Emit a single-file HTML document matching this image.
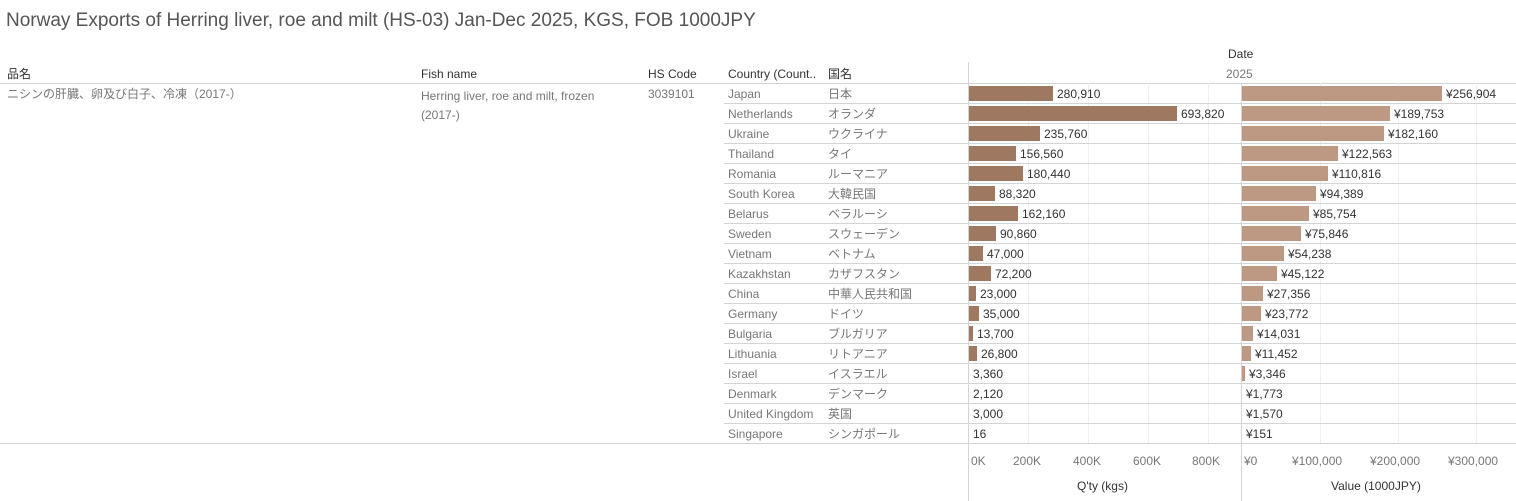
<!DOCTYPE html>
<html><head><meta charset="utf-8"><style>
body{margin:0;width:1516px;height:501px;background:#fff;font-family:"Liberation Sans","Noto Sans CJK JP",sans-serif;position:relative;overflow:hidden}
.a{position:absolute;white-space:nowrap;line-height:14px}
.t{font-size:19px;color:#555;left:6px;top:11px;line-height:20px}
.h{font-size:12px;color:#333}
.c{font-size:12px;color:#777}
.v{font-size:12px;color:#333}
.ln{position:absolute;background:#d4d4d4}
.g{position:absolute;background:#efefef;width:1px;top:83px;height:360px}
.bq{position:absolute;background:#9e7860;height:15px}
.bv{position:absolute;background:#bd9882;height:15px}
</style></head><body>
<div class="a t">Norway Exports of Herring liver, roe and milt (HS-03) Jan-Dec 2025, KGS, FOB 1000JPY</div>
<div class="a h" style="left:1228px;top:47px">Date</div>
<div class="a c" style="left:1226px;top:67px">2025</div>
<div class="a h" style="left:7px;top:67px">品名</div>
<div class="a h" style="left:421px;top:67px">Fish name</div>
<div class="a h" style="left:648px;top:67px">HS Code</div>
<div class="a h" style="left:728px;top:67px">Country (Count..</div>
<div class="a h" style="left:828px;top:67px">国名</div>
<div class="a c" style="left:7px;top:87px">ニシンの肝臓、卵及び白子、冷凍（2017-）</div>
<div class="a c" style="left:421px;top:87px;line-height:19px">Herring liver, roe and milt, frozen<br>(2017-)</div>
<div class="a c" style="left:648px;top:87px">3039101</div>
<div class="ln" style="left:0;top:83px;width:1516px;height:1px"></div>
<div class="ln" style="left:0;top:443px;width:1516px;height:1px"></div>
<div class="ln" style="left:968px;top:62px;width:1px;height:439px"></div>
<div class="ln" style="left:1241px;top:83px;width:1px;height:418px"></div>
<div class="g" style="left:1028px"></div><div class="g" style="left:1088px"></div><div class="g" style="left:1148px"></div><div class="g" style="left:1208px"></div>
<div class="g" style="left:1320px"></div><div class="g" style="left:1398px"></div><div class="g" style="left:1476px"></div>
<div id="rows"></div>
<div class="a c" style="left:971px;top:454px">0K</div>
<div class="a c" style="left:1013px;top:454px">200K</div>
<div class="a c" style="left:1073px;top:454px">400K</div>
<div class="a c" style="left:1133px;top:454px">600K</div>
<div class="a c" style="left:1192px;top:454px">800K</div>
<div class="a c" style="left:1244px;top:454px">¥0</div>
<div class="a c" style="left:1292px;top:454px">¥100,000</div>
<div class="a c" style="left:1370px;top:454px">¥200,000</div>
<div class="a c" style="left:1448px;top:454px">¥300,000</div>
<div class="a h" style="left:1077px;top:479px">Q'ty (kgs)</div>
<div class="a h" style="left:1331px;top:479px">Value (1000JPY)</div>
<script>
var d=[["Japan","日本",280910,256904],["Netherlands","オランダ",693820,189753],["Ukraine","ウクライナ",235760,182160],["Thailand","タイ",156560,122563],["Romania","ルーマニア",180440,110816],["South Korea","大韓民国",88320,94389],["Belarus","ベラルーシ",162160,85754],["Sweden","スウェーデン",90860,75846],["Vietnam","ベトナム",47000,54238],["Kazakhstan","カザフスタン",72200,45122],["China","中華人民共和国",23000,27356],["Germany","ドイツ",35000,23772],["Bulgaria","ブルガリア",13700,14031],["Lithuania","リトアニア",26800,11452],["Israel","イスラエル",3360,3346],["Denmark","デンマーク",2120,1773],["United Kingdom","英国",3000,1570],["Singapore","シンガポール",16,151]];
var h="";
d.forEach(function(r,i){var y=83+i*20;
if(i>0)h+='<div class="ln" style="left:724px;top:'+y+'px;width:792px;height:1px"></div>';
h+='<div class="a c" style="left:728px;top:'+(y+4)+'px">'+r[0]+'</div><div class="a c" style="left:828px;top:'+(y+4)+'px">'+r[1]+'</div>';
var wq=Math.round(r[2]*0.0003),wv=Math.round(r[3]*0.00078);
if(wq<2)wq=0; if(wv<2)wv=0;
h+='<div class="bq" style="left:969px;top:'+(y+3)+'px;width:'+wq+'px"></div><div class="a v" style="left:'+(973+wq)+'px;top:'+(y+4)+'px">'+r[2].toLocaleString("en-US")+'</div>';
h+='<div class="bv" style="left:1242px;top:'+(y+3)+'px;width:'+wv+'px"></div><div class="a v" style="left:'+(1246+wv)+'px;top:'+(y+4)+'px">¥'+r[3].toLocaleString("en-US")+'</div>';});
document.getElementById("rows").innerHTML=h;
</script>
</body></html>
